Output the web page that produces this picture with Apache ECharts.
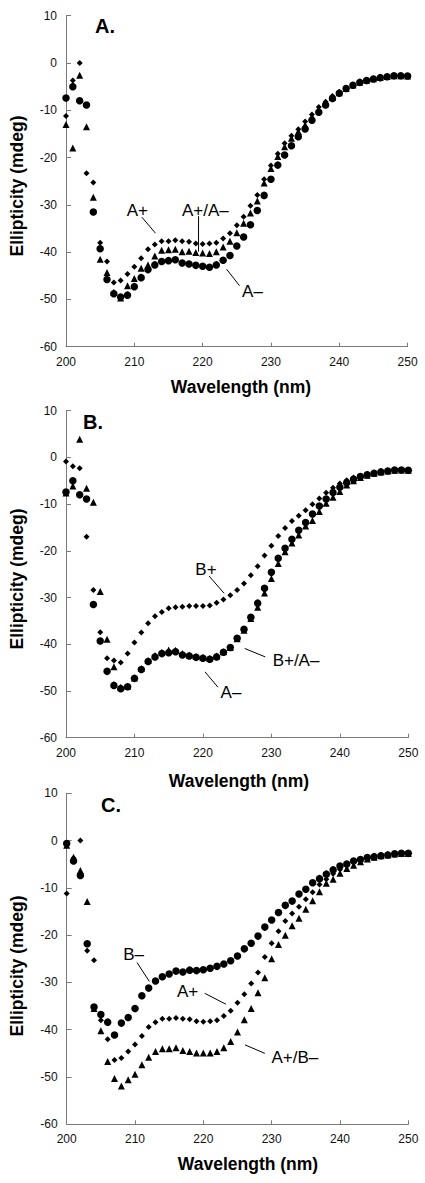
<!DOCTYPE html>
<html><head><meta charset="utf-8">
<script src="https://cdn.jsdelivr.net/npm/echarts@6/dist/echarts.min.js"></script>
<style>html,body{margin:0;padding:0;background:#fff}#c{width:425px;height:1183px}</style>
</head><body><div id="c"></div>
<script>
// ---------- data ----------
const wavelengths = [200,201,202,203,204,205,206,207,208,209,
  210,211,212,213,214,215,216,217,218,219,
  220,221,222,223,224,225,226,227,228,229,
  230,231,232,233,234,235,236,237,238,239,
  240,241,242,243,244,245,246,247,248,249,250];
const xTicks = [200, 210, 220, 230, 240, 250];
const yTicks = [-60, -50, -40, -30, -20, -10, 0, 10];

// A+ (diamonds, panels A and C)
const aPlus = [-11.2,-3.7,0.0,-23.3,-25.3,-38.0,-42.0,-46.4,-46.0,-44.6,
  -43.1,-41.3,-39.4,-38.4,-37.7,-37.7,-37.5,-37.7,-37.8,-38.2,
  -38.3,-38.2,-38.0,-37.1,-36.0,-34.3,-32.5,-30.2,-27.9,-24.6,
  -21.7,-19.2,-17.0,-15.4,-14.0,-12.4,-10.9,-9.3,-8.2,-7.0,
  -6.1,-5.3,-4.6,-4.0,-3.6,-3.3,-3.0,-2.85,-2.7,-2.7,-2.75];
// A- (circles, panels A and B)
const aMinus = [-7.4,-5.0,-8.0,-8.9,-31.5,-39.3,-45.8,-48.8,-49.5,-49.1,
  -47.3,-45.4,-43.7,-42.7,-42.0,-41.8,-41.6,-42.3,-42.5,-42.8,
  -43.0,-43.2,-42.7,-41.7,-40.7,-38.7,-36.8,-34.2,-31.2,-28.0,
  -24.6,-21.6,-19.45,-17.5,-15.6,-13.95,-12.1,-10.4,-8.9,-7.5,
  -6.4,-5.4,-4.7,-4.1,-3.7,-3.4,-3.1,-2.9,-2.7,-2.7,-2.75];
// A+/A- (triangles, panel A)
const aPlusAMinus = [-13.0,-18.0,-2.6,-13.5,-28.4,-41.5,-44.3,-48.5,-49.7,-47.1,
  -45.6,-43.4,-42.7,-40.8,-39.6,-39.5,-39.4,-39.9,-39.8,-40.1,
  -40.2,-40.3,-39.9,-38.9,-37.7,-35.9,-33.9,-31.7,-29.2,-25.4,
  -22.3,-19.8,-17.7,-15.9,-14.5,-13.1,-11.35,-9.9,-8.6,-7.3,
  -6.3,-5.4,-4.65,-4.05,-3.65,-3.35,-3.05,-2.85,-2.7,-2.7,-2.75];
// B+ (diamonds, panel B)
const bPlus = [-0.85,-1.9,-2.3,-17.0,-28.4,-37.4,-43.0,-43.5,-43.9,-41.95,
  -39.6,-37.5,-35.5,-34.0,-33.1,-32.3,-32.1,-31.95,-31.8,-31.8,
  -31.8,-31.7,-31.1,-30.4,-29.5,-28.4,-27.0,-25.2,-23.3,-21.0,
  -18.9,-16.8,-15.1,-13.6,-12.5,-11.3,-10.05,-8.8,-7.55,-6.5,
  -5.6,-4.9,-4.3,-3.9,-3.5,-3.3,-3.1,-2.9,-2.8,-2.8,-2.8];
// B+/A- (triangles, panel B)
const bPlusAMinus = [-7.6,-6.1,3.9,-6.6,-9.6,-28.7,-38.9,-44.8,-49.2,-49.0,
  -47.2,-45.2,-43.5,-42.4,-41.7,-41.2,-41.3,-42.0,-42.3,-42.6,
  -42.8,-43.0,-42.5,-41.6,-40.7,-38.8,-37.0,-34.5,-32.1,-29.0,
  -25.9,-22.7,-20.2,-18.3,-16.6,-14.7,-13.5,-11.6,-9.8,-8.55,
  -7.3,-5.9,-5.0,-4.3,-3.8,-3.4,-3.1,-2.9,-2.75,-2.7,-2.75];
// B- (circles, panel C)
const bMinus = [-0.6,-4.3,-7.4,-21.8,-35.2,-36.8,-38.4,-41.1,-38.6,-37.4,
  -35.5,-32.8,-31.2,-29.7,-28.8,-28.2,-27.6,-27.8,-27.4,-27.5,
  -27.3,-27.0,-26.6,-26.1,-25.4,-24.4,-22.9,-21.7,-20.2,-18.3,
  -16.8,-15.2,-13.7,-12.8,-11.3,-10.3,-8.9,-8.05,-7.1,-6.2,
  -5.4,-4.95,-4.3,-4.0,-3.6,-3.4,-3.2,-3.05,-2.8,-2.7,-2.7];
// A+/B- (triangles, panel C)
const aPlusBMinus = [-1.0,-3.5,-6.3,-12.9,-35.5,-40.2,-46.7,-50.3,-51.9,-50.6,
  -49.4,-47.4,-45.8,-44.6,-44.0,-44.0,-43.8,-44.4,-44.6,-44.9,
  -44.9,-44.9,-44.6,-43.8,-42.5,-40.5,-37.9,-35.5,-32.2,-29.0,
  -25.0,-22.0,-20.0,-18.0,-16.4,-14.5,-12.7,-10.8,-9.0,-8.2,
  -6.9,-5.9,-5.2,-4.5,-3.9,-3.5,-3.2,-3.05,-2.85,-2.75,-2.75];

// annotation texts (data coordinates for anchors)
const labelsA = ['A+', 'A+/A\u2013', 'A\u2013'];
const labelAtA = [[210.45,-31.1],[220.4,-31.1],[227.3,-48.4]];
const leadersA = [[[211.1,-32.6],[213.1,-36.0]],[[219.4,-32.4],[219.4,-39.9]],[[223.5,-43.6],[225.4,-47.1]]];
const labelsB = ['B+', 'B+/A\u2013', 'A\u2013'];
const labelAtB = [[220.45,-23.9],[233.6,-43.5],[224.1,-50.3]];
const leadersB = [[[220.9,-25.4],[223.1,-29.1]],[[226.1,-40.9],[229.1,-42.7]],[[220.3,-45.9],[222.2,-49.2]]];
const labelsC = ['B\u2013', 'A+', 'A+/B\u2013'];
const labelAtC = [[209.8,-24.0],[217.7,-32.0],[233.4,-45.9]];
const leadersC = [[[210.3,-25.8],[212.1,-29.8]],[[220.2,-32.3],[223.3,-34.6]],[[226.1,-43.2],[229.0,-45.0]]];

const panelLetters = ['A.', 'B.', 'C.'];
const xTitle = 'Wavelength (nm)';
const yTitle = 'Ellipticity (mdeg)';

// ---------- layout ----------
const FONT = "'Liberation Sans', Arial, Helvetica, sans-serif";
const AXIS_COLOR = '#7a7a7a';
const grids = [
  {left: 66, top: 15.7, width: 341.6, height: 331},
  {left: 66, top: 410.7, width: 342.3, height: 327},
  {left: 66.7, top: 793.3, width: 341.6, height: 331}
];
const panels = [
  {series: [['diamond', aPlus], ['triangle', aPlusAMinus], ['circle', aMinus]],
   labels: labelsA, at: labelAtA, leaders: leadersA,
   letter: [105, 26], xt: [241, 387], yt: [16.5, 186]},
  {series: [['diamond', bPlus], ['triangle', bPlusAMinus], ['circle', aMinus]],
   labels: labelsB, at: labelAtB, leaders: leadersB,
   letter: [93, 422], xt: [239, 781], yt: [16.5, 579]},
  {series: [['diamond', aPlus], ['triangle', aPlusBMinus], ['circle', bMinus]],
   labels: labelsC, at: labelAtC, leaders: leadersC,
   letter: [111, 805], xt: [248, 1164], yt: [16.5, 966]}
];
const symSize = {circle: 7.5, triangle: 7, diamond: 6};

const xAxes = [], yAxes = [], series = [], graphic = [];
panels.forEach((p, gi) => {
  xAxes.push({
    gridIndex: gi, type: 'value', min: xTicks[0], max: xTicks[xTicks.length-1],
    interval: xTicks[1] - xTicks[0],
    axisLine: {show: true, onZero: false, lineStyle: {color: AXIS_COLOR, width: 1}},
    axisTick: {show: true, inside: true, length: 4, lineStyle: {color: AXIS_COLOR}},
    axisLabel: {color: '#111', fontSize: 12, fontFamily: FONT, margin: 9},
    splitLine: {show: false}
  });
  yAxes.push({
    gridIndex: gi, type: 'value', min: yTicks[0], max: yTicks[yTicks.length-1],
    interval: yTicks[1] - yTicks[0],
    axisLine: {show: true, onZero: false, lineStyle: {color: AXIS_COLOR, width: 1}},
    axisTick: {show: true, inside: true, length: 5, lineStyle: {color: AXIS_COLOR}},
    axisLabel: {color: '#111', fontSize: 12, fontFamily: FONT, margin: 9},
    splitLine: {show: false}
  });
  p.series.forEach(([sym, vals], si) => {
    series.push({
      type: 'scatter', xAxisIndex: gi, yAxisIndex: gi,
      symbol: sym, symbolSize: symSize[sym], z: 2 + si,
      itemStyle: {color: '#000', opacity: 1},
      emphasis: {disabled: true}, silent: true, animation: false,
      data: wavelengths.map((w, i) => [w, vals[i]])
    });
  });
  p.leaders.forEach(seg => {
    series.push({
      type: 'line', xAxisIndex: gi, yAxisIndex: gi, symbol: 'none',
      lineStyle: {color: '#000', width: 1}, silent: true, animation: false, z: 5,
      data: seg
    });
  });
  series.push({
    type: 'scatter', xAxisIndex: gi, yAxisIndex: gi, symbolSize: 0.5,
    itemStyle: {color: '#fff', opacity: 1}, silent: true, animation: false, z: 6,
    emphasis: {disabled: true},
    label: {show: true, position: 'inside', color: '#000', opacity: 1,
            textBorderWidth: 0, fontSize: 17, fontFamily: FONT,
            formatter: (prm) => p.labels[prm.dataIndex]},
    data: p.at
  });
  graphic.push({type: 'text', x: p.letter[0], y: p.letter[1], silent: true,
    style: {text: panelLetters[gi], fontSize: 20, fontWeight: 'bold', fontFamily: FONT,
            fill: '#000', align: 'center', verticalAlign: 'middle'}});
  graphic.push({type: 'text', x: p.xt[0], y: p.xt[1], silent: true,
    style: {text: xTitle, fontSize: 17.5, fontWeight: 'bold', fontFamily: FONT,
            fill: '#000', align: 'center', verticalAlign: 'middle'}});
  graphic.push({type: 'text', x: p.yt[0], y: p.yt[1], rotation: Math.PI / 2, silent: true,
    style: {text: yTitle, fontSize: 17.5, fontWeight: 'bold', fontFamily: FONT,
            fill: '#000', align: 'center', verticalAlign: 'middle'}});
});

const chart = echarts.init(document.getElementById('c'), null, {renderer: 'svg'});
chart.setOption({
  backgroundColor: '#fff',
  animation: false,
  grid: grids,
  xAxis: xAxes,
  yAxis: yAxes,
  series: series,
  graphic: graphic
});
</script>
</body></html>
